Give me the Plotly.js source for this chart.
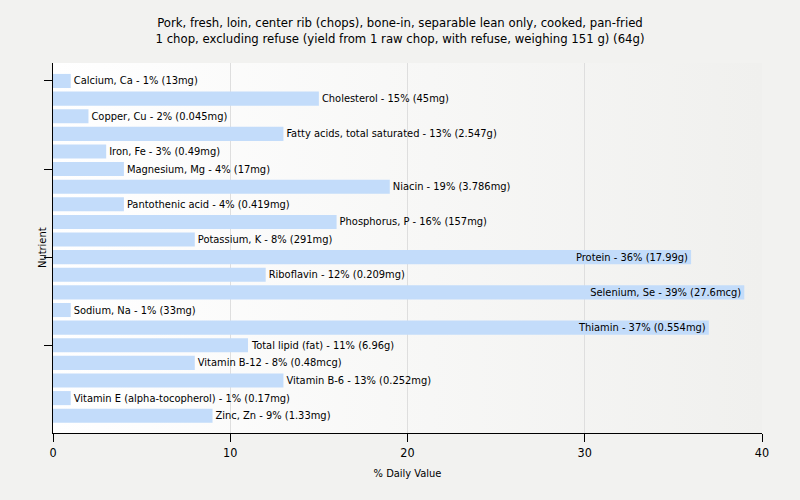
<!DOCTYPE html>
<html>
<head>
<meta charset="utf-8">
<script src="https://cdn.plot.ly/plotly-3.0.1.min.js"></script>
<style>html,body{margin:0;padding:0;background:#f2f2f0;}</style>
</head>
<body>
<div id="chart" style="width:800px;height:500px;"></div>
<script>
const nutrients = ["Calcium, Ca","Cholesterol","Copper, Cu","Fatty acids, total saturated","Iron, Fe","Magnesium, Mg","Niacin","Pantothenic acid","Phosphorus, P","Potassium, K","Protein","Riboflavin","Selenium, Se","Sodium, Na","Thiamin","Total lipid (fat)","Vitamin B-12","Vitamin B-6","Vitamin E (alpha-tocopherol)","Zinc, Zn"];
const dailyValue = [1,15,2,13,3,4,19,4,16,8,36,12,39,1,37,11,8,13,1,9];
const amounts = ["13mg","45mg","0.045mg","2.547g","0.49mg","17mg","3.786mg","0.419mg","157mg","291mg","17.99g","0.209mg","27.6mcg","33mg","0.554mg","6.96g","0.48mcg","0.252mg","0.17mg","1.33mg"];
const insideLabels = ["Protein","Selenium, Se","Thiamin"];
const xTicks = [0,10,20,30,40];
const yTickCats = ["Calcium, Ca","Magnesium, Mg","Protein","Total lipid (fat)"];

const labels = nutrients.map((n,i)=> n + " - " + dailyValue[i] + "% (" + amounts[i] + ")");
const positions = nutrients.map(n => insideLabels.includes(n) ? "inside" : "outside");

const gradSvg = '<svg xmlns="http://www.w3.org/2000/svg" width="100" height="100" preserveAspectRatio="none"><defs><linearGradient id="g" x1="0" y1="0" x2="1" y2="0"><stop offset="0" stop-color="#ffffff"/><stop offset="1" stop-color="#f0f0ee"/></linearGradient></defs><rect width="100" height="100" fill="url(#g)"/></svg>';

const fontFam = "Tahoma, 'DejaVu Sans Condensed', 'DejaVu Sans', sans-serif";

Plotly.newPlot("chart", [{
  type: "bar",
  orientation: "h",
  y: nutrients,
  x: dailyValue,
  text: labels,
  textposition: positions,
  insidetextanchor: "end",
  cliponaxis: false,
  constraintext: "none",
  textfont: {family: fontFam, size: 11, color: "#000"},
  insidetextfont: {family: fontFam, size: 11, color: "#000"},
  outsidetextfont: {family: fontFam, size: 11, color: "#000"},
  marker: {color: "#c3dcfa"},
  hoverinfo: "none"
}], {
  width: 800, height: 500,
  paper_bgcolor: "#f2f2f0",
  plot_bgcolor: "rgba(0,0,0,0)",
  margin: {l: 53, r: 38, t: 63, b: 67},
  bargap: 0.2,
  uniformtext: {mode: "show", minsize: 11},
  showlegend: false,
  font: {family: fontFam, size: 11, color: "#000"},
  title: {
    text: "Pork, fresh, loin, center rib (chops), bone-in, separable lean only, cooked, pan-fried<br>1 chop, excluding refuse (yield from 1 raw chop, with refuse, weighing 151 g) (64g)",
    font: {family: fontFam, size: 13, color: "#000"},
    x: 0.5, xanchor: "center", y: 0.947, yanchor: "top"
  },
  images: [{
    source: "data:image/svg+xml;charset=utf-8," + encodeURIComponent(gradSvg),
    xref: "paper", yref: "paper", x: 0, y: 1, sizex: 1, sizey: 1,
    xanchor: "left", yanchor: "top", sizing: "stretch", layer: "below"
  }],
  annotations: [{
    text: "Nutrient", xref: "paper", yref: "paper", x: -0.0155, y: 0.5,
    xanchor: "center", yanchor: "middle", textangle: -90, showarrow: false,
    font: {family: fontFam, size: 11, color: "#000"}
  }],
  xaxis: {
    range: [0, 40],
    tickvals: xTicks,
    ticks: "outside", ticklen: 8, tickcolor: "#000",
    showline: true, linecolor: "#000", linewidth: 1,
    showgrid: true, gridcolor: "#dedede",
    zeroline: false,
    tickfont: {family: fontFam, size: 12.5, color: "#000"},
    title: {text: "% Daily Value", font: {family: fontFam, size: 11, color: "#000"}, standoff: 10}
  },
  yaxis: {
    range: [19.98, -1.02],
    type: "category",
    tickvals: yTickCats,
    ticktext: yTickCats.map(()=>""),
    ticks: "outside", ticklen: 8, tickcolor: "#000",
    showline: true, linecolor: "#000", linewidth: 1,
    showgrid: false, zeroline: false
  }
}, {displayModeBar: false, staticPlot: true});
</script>
</body>
</html>
